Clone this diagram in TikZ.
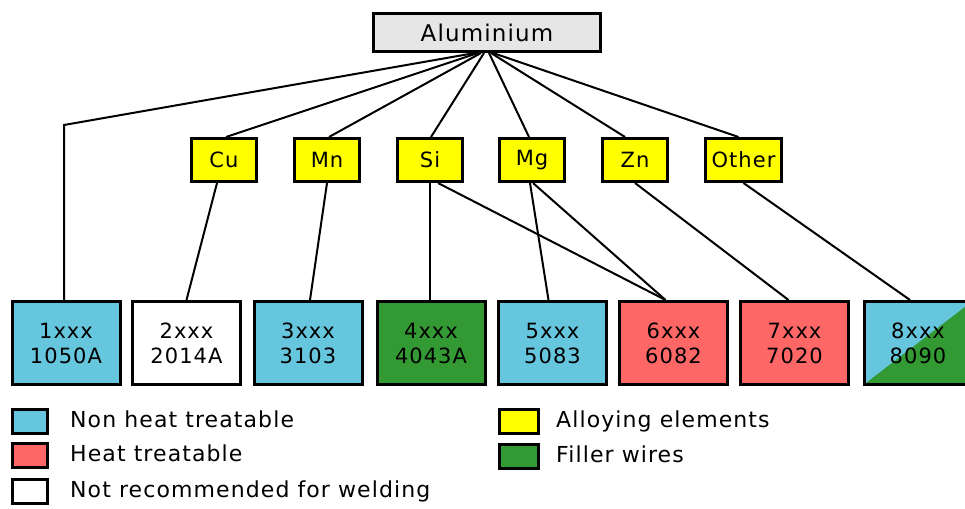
\documentclass[tikz,border=0pt]{standalone}
\usepackage{fontspec}
\setmainfont{DejaVu Sans}[LetterSpace=5]
\usetikzlibrary{calc}

\definecolor{nonheat}{HTML}{66C6DE}
\definecolor{heat}{HTML}{FF6666}
\definecolor{filler}{HTML}{339933}
\definecolor{alloy}{HTML}{FFFF00}
\definecolor{basegray}{HTML}{E6E6E6}

\tikzset{
  box/.style={draw=black, line width=3pt, inner sep=0pt, align=center},
  rootbox/.style={box, fill=basegray, minimum width=227pt, minimum height=38pt,
    font=\fontsize{23pt}{27pt}\selectfont},
  elembox/.style={box, fill=alloy, minimum width=65pt, minimum height=43pt,
    font=\fontsize{21pt}{25pt}\selectfont},
  seriesbox/.style={box, minimum width=108pt, minimum height=83pt,
    font=\fontsize{21pt}{25pt}\selectfont},
  swatch/.style={box, minimum width=35pt, minimum height=24pt},
  legendtext/.style={anchor=west, inner sep=0pt, text height=16pt, text depth=4pt,
    font=\fontsize{22pt}{26pt}\selectfont},
  link/.style={draw=black, line width=2pt}
}

\begin{document}
\begin{tikzpicture}[x=1pt, y=-1pt]
  \clip (0,0) rectangle (965,508);

  % root
  \node[rootbox] (al) at (487,32.5) {Aluminium};

  % alloying elements
  \node[elembox] (cu) at (224,160) {Cu};
  \node[elembox] (mn) at (327,160) {Mn};
  \node[elembox] (si) at (430,160) {Si};
  \node[elembox] (mg) at (532,160) {Mg};
  \node[elembox] (zn) at (635,160) {Zn};
  \node[elembox, minimum width=76pt] (other) at (743.5,160) {Other};

  % alloy series
  \node[seriesbox, fill=nonheat] (b1) at (66,343)    {1xxx\\1050A};
  \node[seriesbox, fill=white]   (b2) at (186.5,343) {2xxx\\2014A};
  \node[seriesbox, fill=nonheat] (b3) at (308,343)   {3xxx\\3103};
  \node[seriesbox, fill=filler]  (b4) at (431,343)   {4xxx\\4043A};
  \node[seriesbox, fill=nonheat] (b5) at (552.5,343) {5xxx\\5083};
  \node[seriesbox, fill=heat]    (b6) at (673.5,343) {6xxx\\6082};
  \node[seriesbox, fill=heat]    (b7) at (794.5,343) {7xxx\\7020};
  \node[seriesbox, fill=nonheat,
        path picture={\fill[filler] (path picture bounding box.south west)
          -- (path picture bounding box.south east)
          -- (path picture bounding box.north east) -- cycle;}]
        (b8) at (918,343) {8xxx\\8090};

  % root to elements and to 1xxx
  \coordinate (bend1) at (64,125);
  \draw[link] ([xshift=-12pt]al.south) -- (bend1) -- (bend1 |- b1.north);
  \draw[link] ([xshift=-9pt]al.south) -- ([xshift=2pt]cu.north);
  \draw[link] ([xshift=-6pt]al.south) -- ([xshift=2pt]mn.north);
  \draw[link] ([xshift=-3pt]al.south) -- ([xshift=1pt]si.north);
  \draw[link] ([xshift=2pt]al.south)  -- ([xshift=-3pt]mg.north);
  \draw[link] ([xshift=4pt]al.south)  -- ([xshift=-10pt]zn.north);
  \draw[link] ([xshift=6pt]al.south)  -- ([xshift=-5pt]other.north);

  % elements to series
  \draw[link] ([xshift=-7pt]cu.south) -- (b2.north);
  \draw[link] (mn.south) -- ([xshift=2pt]b3.north);
  \draw[link] (si.south) -- (si.south |- b4.north);
  \draw[link] ([xshift=8pt]si.south) -- ([xshift=-8pt]b6.north);
  \draw[link] ([xshift=-2pt]mg.south) -- ([xshift=-4pt]b5.north);
  \draw[link] ([xshift=1pt]mg.south) -- ([xshift=-8pt]b6.north);
  \draw[link] (zn.south) -- ([xshift=-6pt]b7.north);
  \draw[link] (other.south) -- ([xshift=-8pt]b8.north);

  % legend
  \node[swatch, fill=nonheat] (lg1) at (30,421.5) {};
  \node[swatch, fill=heat]    (lg2) at (30,455.5) {};
  \node[swatch, fill=white]   (lg3) at (30,491.5) {};
  \node[swatch, fill=alloy, minimum width=39pt]  (lg4) at (519,421.5) {};
  \node[swatch, fill=filler, minimum width=39pt] (lg5) at (519,456) {};

  \node[legendtext] (lt1) at (70,421.5) {Non heat treatable};
  \node[legendtext] (lt2) at (70,455.5) {Heat treatable};
  \node[legendtext] (lt3) at (70,491.5) {Not recommended for welding};
  \node[legendtext] (lt4) at (556,421.5) {Alloying elements};
  \node[legendtext] (lt5) at (556,456) {Filler wires};
\end{tikzpicture}
\end{document}
